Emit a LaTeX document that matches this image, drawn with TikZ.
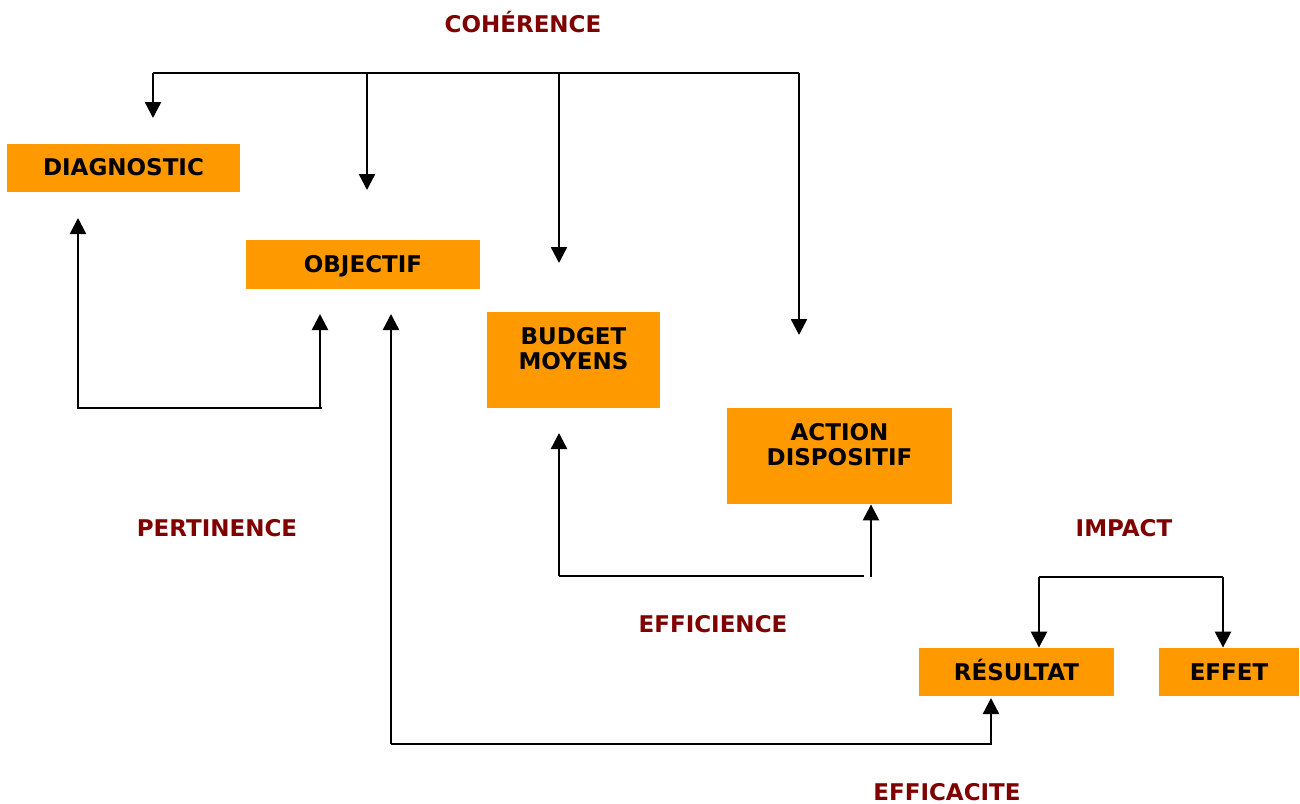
\documentclass[tikz,border=0pt]{standalone}
\usepackage{fontspec}
\setmainfont{DejaVu Sans}
\usetikzlibrary{arrows.meta}
\definecolor{boxorange}{HTML}{FF9900}
\definecolor{critred}{HTML}{800000}
\tikzset{
  box/.style={fill=boxorange, inner sep=0pt, align=center,
    text height=8.4pt, text depth=0pt,
    font=\bfseries\fontsize{11.5}{12.5}\selectfont},
  twoline/.style={text height=20.9pt, text depth=11pt},
  crit/.style={text=critred, inner sep=0pt, font=\bfseries\fontsize{11.5}{12.5}\selectfont},
  wire/.style={line width=1.2pt},
  link/.style={line width=1.2pt, -{Triangle[width=8pt,length=8pt]}}
}
\begin{document}
\begin{tikzpicture}[x=0.5pt,y=-0.5pt]
\useasboundingbox (0,0) rectangle (1300,803);
% boxes
\node[box, minimum width=116.5pt, minimum height=24pt] (diag) at (123.5,167.5) {DIAGNOSTIC};
\node[box, minimum width=117pt, minimum height=24.5pt] (obj) at (363,264.5) {OBJECTIF};
\node[box, twoline, minimum width=86.5pt, minimum height=48pt] (bud) at (573.5,360) {BUDGET\\MOYENS};
\node[box, twoline, minimum width=112.5pt, minimum height=48pt] (act) at (839.5,456) {ACTION\\DISPOSITIF};
\node[box, minimum width=97.5pt, minimum height=24pt] (res) at (1016.5,672) {RÉSULTAT};
\node[box, minimum width=70pt, minimum height=24pt] (eff) at (1229,672) {EFFET};
% criteria
\node[crit] (coh) at (523,22) {COHÉRENCE};
\node[crit] (per) at (217,528) {PERTINENCE};
\node[crit] (effc) at (713,624) {EFFICIENCE};
\node[crit] (imp) at (1124,528) {IMPACT};
\node[crit] (effa) at (947,792) {EFFICACITE};
% coherence
\coordinate (coh-l) at (153,73);
\coordinate (coh-r) at (799,73);
\coordinate (diag-in) at (153,118);
\coordinate (obj-in) at (367,190);
\coordinate (bud-in) at (559,263);
\coordinate (act-in) at (799,335);
\draw[wire] (coh-l) -- (coh-r);
\draw[link] (coh-l) -- (diag-in);
\draw[link] (obj-in |- coh-l) -- (obj-in);
\draw[link] (bud-in |- coh-l) -- (bud-in);
\draw[link] (coh-r) -- (act-in);
% pertinence
\coordinate (per-r) at (322,408);
\draw[link] (per-r) -- (78,408) -- (78,218);
\draw[link] (320,408) -- (320,314);
% efficience
\coordinate (effc-l) at (559,576);
\draw[wire] (864,576) -- (effc-l);
\draw[link] (effc-l) -- (559,433);
\draw[link] (871,577) -- (act.south -| 871,0);
% efficacite
\coordinate (effa-l) at (391,744);
\draw[link] (effa-l) -- (391,314);
\draw[link] (effa-l) -- (991,744) -- (991,698);
% impact
\coordinate (imp-l) at (1039,577);
\coordinate (imp-r) at (1223,577);
\draw[wire] (imp-l) -- (imp-r);
\draw[link] (imp-l) -- (imp-l |- res.north);
\draw[link] (imp-r) -- (imp-r |- eff.north);
\end{tikzpicture}
\end{document}
